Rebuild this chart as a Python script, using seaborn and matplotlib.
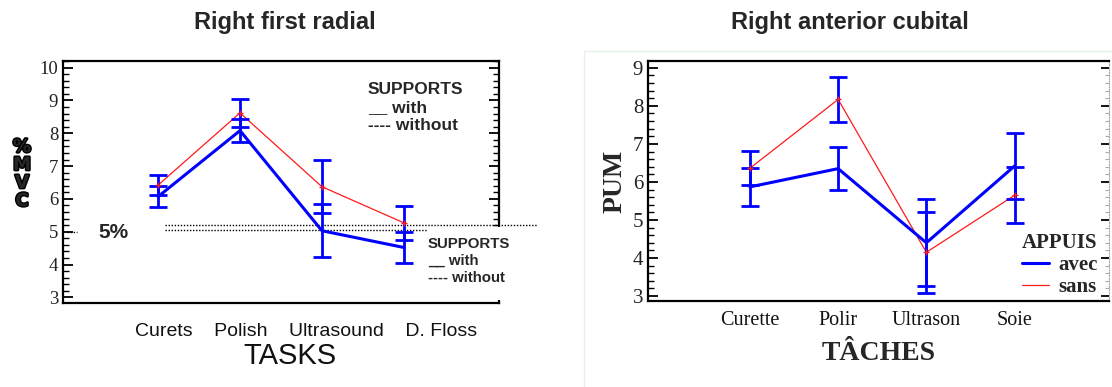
import matplotlib
matplotlib.use("Agg")
import matplotlib.pyplot as plt
import matplotlib.patheffects as pe
from matplotlib.patches import Rectangle
from matplotlib.lines import Line2D
from matplotlib.ticker import AutoMinorLocator
from matplotlib.font_manager import FontProperties
import pandas as pd
import seaborn as sns

# --- data ---
tasks_en = ["Curets", "Polish", "Ultrasound", "D. Floss"]
rfr_with_mean = [6.07, 8.08, 5.03, 4.52]
rfr_with_err = [0.32, 0.35, 0.81, 0.47]
rfr_without_mean = [6.42, 8.62, 6.37, 5.27]
rfr_without_err = [0.31, 0.42, 0.80, 0.52]
threshold_levels = [5.2, 5.05]

tasks_fr = ["Curette", "Polir", "Ultrason", "Soie"]
rac_avec_mean = [5.87, 6.35, 4.40, 6.42]
rac_avec_err = [0.50, 0.56, 1.14, 0.86]
rac_sans_mean = [6.36, 8.17, 4.15, 5.65]
rac_sans_err = [0.45, 0.60, 1.07, 0.74]

sns.set_theme(style="ticks")
plt.rcParams['font.family'] = ['Liberation Sans', 'DejaVu Sans']

SERIF = 'Liberation Serif'
SANS = 'Liberation Sans'
BLUE = '#0000ff'
RED = '#ff1a1a'
W, H = 1112, 387

fig = plt.figure(figsize=(W / 100, H / 100), dpi=100)


def box(x0, y0, x1, y1):
    # pixel box (top-left origin) -> figure fraction rect
    return [x0 / W, 1 - y1 / H, (x1 - x0) / W, (y1 - y0) / H]


def draw_series(ax, tasks, m1, e1, m2, e2):
    pos = list(range(len(tasks)))
    df = pd.DataFrame({'pos': pos * 2, 'value': m1 + m2,
                       'group': ['a'] * len(pos) + ['b'] * len(pos)})
    sns.lineplot(data=df[df.group == 'b'], x='pos', y='value', color=RED,
                 linewidth=0.9, ax=ax, legend=False)
    sns.lineplot(data=df[df.group == 'a'], x='pos', y='value', color=BLUE,
                 linewidth=2.2, ax=ax, legend=False)
    ax.errorbar(pos, m1, yerr=e1, fmt='none', ecolor=BLUE, elinewidth=2.0,
                capsize=6.5, capthick=2.0, zorder=3)
    ax.errorbar(pos, m2, yerr=e2, fmt='+', color=RED, mec=RED, ms=4,
                ecolor=BLUE, elinewidth=2.0, capsize=6.5, capthick=2.0, zorder=3)
    ax.set_xlabel("")
    ax.set_ylabel("")


def style_axes(ax, lw=1.6):
    for s in ax.spines.values():
        s.set_color('black')
        s.set_linewidth(lw)
    ax.yaxis.set_minor_locator(AutoMinorLocator(5))
    ax.tick_params(axis='y', which='major', direction='in', length=7,
                   width=1.3, color='black', labelcolor='#222222')
    ax.tick_params(axis='y', which='minor', direction='in', length=4,
                   width=1.0, color='black')


# ---------------- left panel ----------------
ax1 = fig.add_axes(box(63, 61, 499, 303))
draw_series(ax1, tasks_en, rfr_with_mean, rfr_with_err,
            rfr_without_mean, rfr_without_err)
ax1.set_xlim(-1.16, 4.16)
ax1.set_ylim(2.83, 10.2)
ax1.set_yticks(range(3, 11))
style_axes(ax1)
ax1.tick_params(axis='y', which='both', left=True, right=True, labelsize=13.5)
ax1.set_xticks([])
for lab in ax1.get_yticklabels():
    lab.set_fontfamily(SERIF)

# 5% reference lines (dotted)
ax1.axhline(threshold_levels[0], xmin=0.234, xmax=1.087, color='black',
            lw=1.0, ls=(0, (1, 1.2)), clip_on=False, zorder=1)
ax1.axhline(threshold_levels[1], xmin=0.234, xmax=0.842, color='black',
            lw=1.0, ls=(0, (1, 1.2)), zorder=1)
ax1.axhline(5.0, xmin=0.01, xmax=0.032, color='black', lw=1.0,
            ls=(0, (1, 1.2)), zorder=1)

fig.text(285 / W, 1 - 22 / H, "Right first radial", ha='center', va='center',
         fontsize=17, fontweight='bold', family=SANS)
fig.text(306 / W, 1 - 332 / H, "Curets    Polish    Ultrasound    D. Floss",
         ha='center', va='center', fontsize=14, family=SANS, color='#111111')
fig.text(290 / W, 1 - 356 / H, "TASKS", ha='center', va='center',
         fontsize=21, family=SANS, color='#111111')
fig.text(98 / W, 1 - 233 / H, "5%", ha='left', va='center', fontsize=15,
         fontweight='bold', family=SANS)
fig.text(22 / W, 1 - 174 / H, "%\nM\nV\nC", ha='center', va='center',
         fontsize=13, fontweight='bold', family='DejaVu Sans', linespacing=1.0,
         path_effects=[pe.withStroke(linewidth=2.0, foreground='black')])
fig.text(368 / W, 1 - 108 / H, "SUPPORTS\n__ with\n---- without", ha='left',
         va='center', fontsize=12.5, fontweight='bold', family=SANS,
         linespacing=1.25)
fig.add_artist(Rectangle((427 / W, 1 - 300 / H), 118 / W, 73 / H,
                         transform=fig.transFigure, facecolor='white',
                         edgecolor='none', zorder=3))
fig.text(428 / W, 1 - 261 / H, "SUPPORTS\n__ with\n---- without", ha='left',
         va='center', fontsize=10.8, fontweight='bold', family=SANS,
         linespacing=1.3, zorder=4)

# ---------------- right panel ----------------
fig.add_artist(Rectangle((584 / W, -0.1), 1.0, 1 - 51 / H + 0.1,
                         transform=fig.transFigure, fill=False,
                         edgecolor='#e6f2e6', lw=1.0, zorder=-1))

ax2 = fig.add_axes(box(648, 61, 1109, 301))
draw_series(ax2, tasks_fr, rac_avec_mean, rac_avec_err,
            rac_sans_mean, rac_sans_err)
ax2.set_xlim(-1.155, 4.07)
ax2.set_ylim(2.87, 9.18)
ax2.set_yticks(range(3, 10))
style_axes(ax2)
ax2.spines['right'].set_visible(False)
ax2.tick_params(axis='y', which='both', left=True, right=False, labelsize=15)
ax2.set_xticks(range(len(tasks_fr)))
ax2.set_xticklabels(tasks_fr, family=SERIF, fontsize=14.5, color='#111111')
ax2.tick_params(axis='x', length=0, pad=7)
for lab in ax2.get_yticklabels():
    lab.set_fontfamily(SERIF)

sec = ax2.secondary_yaxis('right')
sec.set_yticks(range(3, 10))
sec.yaxis.set_minor_locator(AutoMinorLocator(5))
sec.tick_params(axis='y', which='major', direction='in', length=6, width=1.3,
                color='black', labelright=False)
sec.tick_params(axis='y', which='minor', direction='in', length=3, width=0.8,
                color='#aaaaaa')
sec.spines['right'].set_color('#aaaaaa')
sec.spines['right'].set_linewidth(0.8)
sec.spines['right'].set_linestyle((0, (1, 1.5)))

ax2.set_ylabel("PUM", family=SERIF, fontsize=20, fontweight='bold', labelpad=4)
ax2.set_xlabel("TÂCHES", family=SERIF, fontsize=20, fontweight='bold',
               labelpad=8)

fp = FontProperties(family=SERIF, weight='bold', size=15)
handles = [Line2D([], [], color=BLUE, lw=2.2), Line2D([], [], color=RED, lw=0.9)]
ax2.legend(handles, ["avec", "sans"], title="APPUIS", loc='lower right',
           bbox_to_anchor=(0.985, 0.0), frameon=False, prop=fp,
           title_fontproperties=fp, handlelength=1.3, handletextpad=0.45,
           labelspacing=0.08, borderpad=0.1, borderaxespad=0.1)

fig.text(850 / W, 1 - 22 / H, "Right anterior cubital", ha='center',
         va='center', fontsize=17, fontweight='bold', family=SANS)

fig.savefig("out.png", dpi=100)
